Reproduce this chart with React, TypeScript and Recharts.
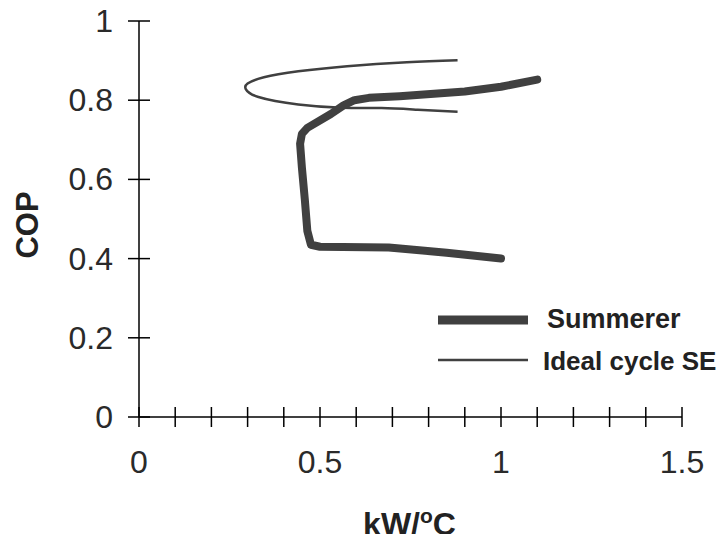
import { LineChart, Line, XAxis, YAxis, Legend, Label } from 'recharts';

// Summerer measured curve (thick line)
const summererKw = [1.0, 0.85, 0.69, 0.5, 0.475, 0.465, 0.458, 0.45, 0.445, 0.45, 0.465, 0.53, 0.565, 0.595, 0.635, 0.72, 0.9, 1.0, 1.1];
const summererCop = [0.4, 0.415, 0.428, 0.43, 0.435, 0.47, 0.55, 0.63, 0.69, 0.715, 0.73, 0.765, 0.787, 0.8, 0.806, 0.81, 0.822, 0.834, 0.852];

// Ideal cycle SE (thin loop)
const idealKw = [0.88, 0.74, 0.575, 0.44, 0.345, 0.3, 0.295, 0.33, 0.44, 0.56, 0.67, 0.77, 0.88];
const idealCop = [0.901, 0.896, 0.886, 0.873, 0.858, 0.842, 0.828, 0.808, 0.789, 0.781, 0.78, 0.776, 0.771];

const xTicks = [0, 0.1, 0.2, 0.3, 0.4, 0.5, 0.6, 0.7, 0.8, 0.9, 1, 1.1, 1.2, 1.3, 1.4, 1.5];
const xLabelTicks = [0, 0.5, 1, 1.5];
const yTicks = [0, 0.2, 0.4, 0.6, 0.8, 1];

const summerer = summererKw.map((kw, i) => ({ kw, cop: summererCop[i] }));
const ideal = idealKw.map((kw, i) => ({ kw, cop: idealCop[i] }));

const FONT = 'Liberation Sans, Arial, sans-serif';
const INK = '#404040';

const XTick = ({ x, y, payload }: any) => {
  const show = xLabelTicks.some((v) => Math.abs(v - payload.value) < 1e-6);
  return (
    <g>
      <line x1={x} x2={x} y1={y - 10} y2={y + 10} stroke="#000" strokeWidth={1.5} />
      {show && (
        <text x={x} y={y + 56} textAnchor="middle" fontSize={32} fontFamily={FONT} fill="#2a2a2a">
          {payload.value}
        </text>
      )}
    </g>
  );
};

const YTick = ({ x, y, payload }: any) => (
  <g>
    <line x1={x - 11} x2={x + 11} y1={y} y2={y} stroke="#000" strokeWidth={1.5} />
    <text x={x - 26} y={y + 11} textAnchor="end" fontSize={32} fontFamily={FONT} fill="#2a2a2a">
      {payload.value}
    </text>
  </g>
);

const LegendBox = () => (
  <svg width={299} height={100}>
    <line x1={13} x2={103} y1={22} y2={22} stroke={INK} strokeWidth={9} />
    <text x={122} y={30} fontSize={27} fontWeight="bold" fontFamily={FONT} fill="#222">
      Summerer
    </text>
    <line x1={13} x2={103} y1={62} y2={62} stroke={INK} strokeWidth={2.5} />
    <text x={118} y={72} fontSize={26} fontWeight="bold" fontFamily={FONT} fill="#222">
      Ideal cycle SE
    </text>
  </svg>
);

export default function App() {
  return (
    <div style={{ margin: -8 }}>
      <LineChart width={724} height={542} margin={{ top: 21, right: 42, left: 0, bottom: 0 }}>
        <XAxis
          type="number"
          dataKey="kw"
          domain={[0, 1.5]}
          ticks={xTicks}
          interval={0}
          height={125}
          tickSize={0}
          tickMargin={0}
          tickLine={false}
          tick={<XTick />}
          axisLine={{ stroke: '#000', strokeWidth: 1.5 }}
        >
          <Label
            content={({ viewBox }: any) => (
              <text
                x={viewBox.x + viewBox.width / 2 - 1}
                y={viewBox.y + 118}
                textAnchor="middle"
                fontSize={32}
                fontWeight="bold"
                fontFamily={FONT}
                fill="#222"
              >
                kW/
                <tspan dy={-12} fontSize={21}>o</tspan>
                <tspan dy={12}>C</tspan>
              </text>
            )}
          />
        </XAxis>
        <YAxis
          type="number"
          dataKey="cop"
          domain={[0, 1]}
          ticks={yTicks}
          interval={0}
          width={139}
          tickSize={0}
          tickMargin={0}
          tickLine={false}
          tick={<YTick />}
          axisLine={{ stroke: '#000', strokeWidth: 1.5 }}
        >
          <Label
            content={({ viewBox }: any) => {
              const cx = viewBox.x + 27;
              const cy = viewBox.y + viewBox.height / 2 + 6;
              return (
                <text
                  x={cx}
                  y={cy}
                  transform={`rotate(-90 ${cx} ${cy})`}
                  textAnchor="middle"
                  dominantBaseline="central"
                  fontSize={31}
                  fontWeight="bold"
                  fontFamily={FONT}
                  fill="#222"
                >
                  COP
                </text>
              );
            }}
          />
        </YAxis>
        <Line
          data={ideal}
          dataKey="cop"
          type="natural"
          stroke={INK}
          strokeWidth={2.5}
          dot={false}
          activeDot={false}
          isAnimationActive={false}
        />
        <Line
          data={summerer}
          dataKey="cop"
          type="linear"
          stroke={INK}
          strokeWidth={8}
          strokeLinejoin="round"
          strokeLinecap="round"
          dot={false}
          activeDot={false}
          isAnimationActive={false}
        />
        <Legend
          layout="horizontal"
          verticalAlign="middle"
          align="center"
          wrapperStyle={{ left: 425, top: 298, width: 299, height: 100 }}
          content={() => <LegendBox />}
        />
      </LineChart>
    </div>
  );
}
